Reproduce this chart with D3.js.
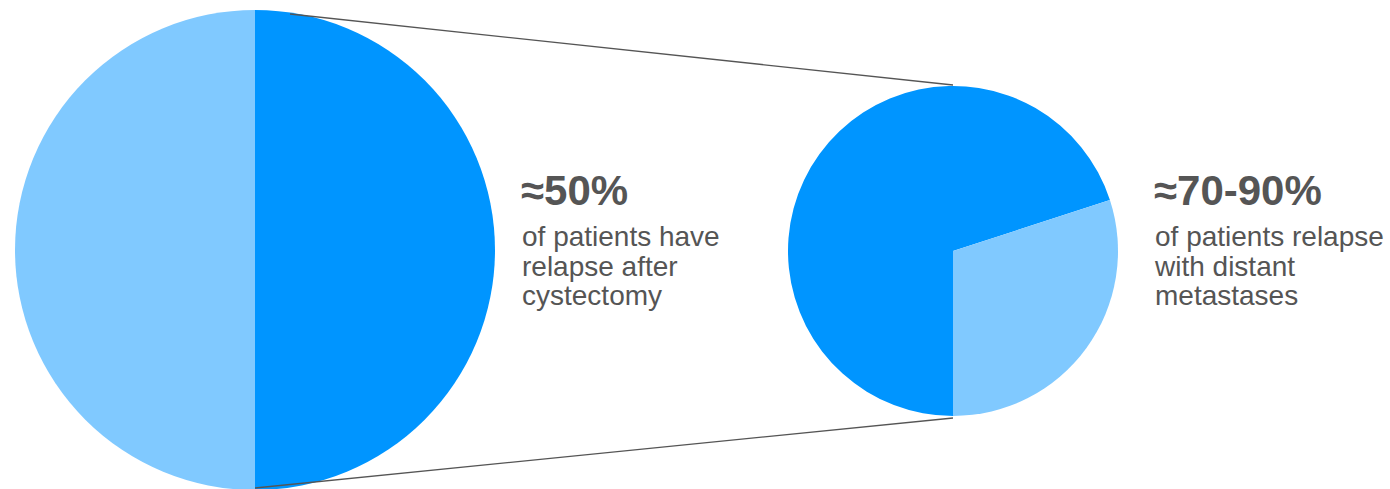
<!DOCTYPE html>
<html><head><meta charset="utf-8">
<script src="https://cdn.jsdelivr.net/npm/d3@7"></script>
<style>body{margin:0;background:#fff}svg{display:block}text{font-family:"Liberation Sans",Arial,Helvetica,sans-serif}</style>
</head><body>
<svg id="c" width="1390" height="489"></svg>
<script>
const bigCategories = ["Relapse", "No relapse"];
const bigValues = [50, 50];
const smallCategories = ["Distant metastases", "Other"];
const smallValues = [70, 30];
const headlines = ["≈50%", "≈70-90%"];
const bigText = ["of patients have", "relapse after", "cystectomy"];
const smallText = ["of patients relapse", "with distant", "metastases"];

const colors = d3.scaleOrdinal().domain([0,1]).range(["#0095ff", "#80c9ff"]);
const svg = d3.select("#c");

function drawPie(cx, cy, r, values, start) {
  const pie = d3.pie().sort(null).startAngle(start).endAngle(start + 2*Math.PI);
  const arc = d3.arc().innerRadius(0).outerRadius(r);
  svg.append("g").attr("transform", `translate(${cx},${cy})`)
    .selectAll("path").data(pie(values)).join("path")
    .attr("d", arc).attr("fill", (d,i) => colors(i));
}
drawPie(255, 250, 240, bigValues, 0);
drawPie(953, 251, 165, smallValues, Math.PI);

svg.append("line").attr("x1", 290).attr("y1", 14).attr("x2", 953).attr("y2", 85)
  .attr("stroke", "#555").attr("stroke-width", 1.3);
svg.append("line").attr("x1", 255).attr("y1", 488).attr("x2", 953).attr("y2", 418)
  .attr("stroke", "#555").attr("stroke-width", 1.3);

function drawText(x, head, lines) {
  const g = svg.append("g").attr("fill", "#555");
  g.append("text").attr("x", x - 1).attr("y", 205).attr("font-size", 42).attr("font-weight", "bold").text(head);
  g.selectAll("text.l").data(lines).join("text").attr("class", "l")
    .attr("x", x).attr("y", (d,i) => 246 + i*29.5).attr("font-size", 28).text(d => d);
}
drawText(522, headlines[0], bigText);
drawText(1155, headlines[1], smallText);
</script>
</body></html>
